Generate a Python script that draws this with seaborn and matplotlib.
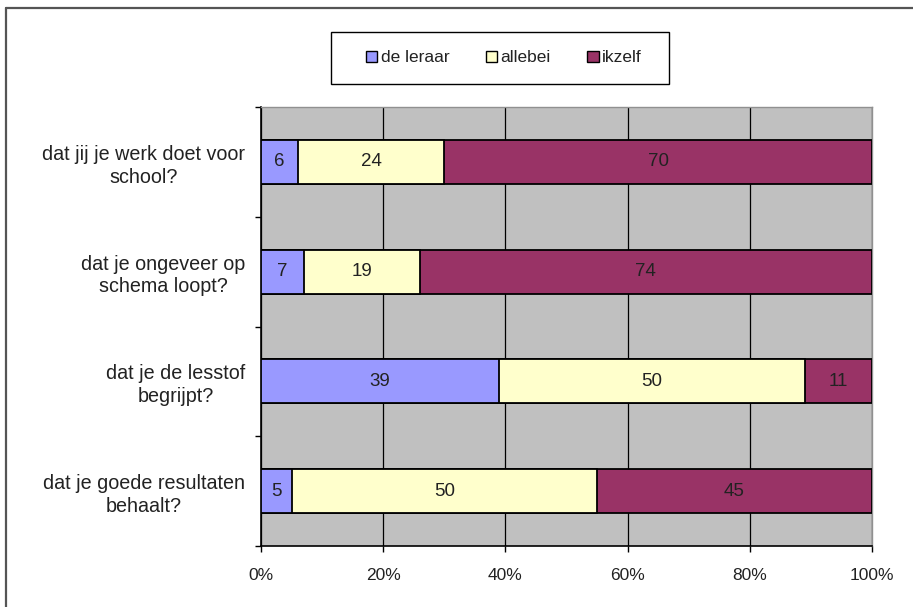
import matplotlib
matplotlib.use("Agg")
import matplotlib.pyplot as plt
import seaborn as sns
import pandas as pd
import numpy as np
from matplotlib.patches import Patch, Rectangle
from matplotlib.lines import Line2D

# Survey answers: who takes care of ... (percentages per question)
questions = [
    "dat jij je werk doet voor\nschool?",
    "dat je ongeveer op\nschema loopt?",
    "dat je de lesstof\nbegrijpt?",
    "dat je goede resultaten\nbehaalt?",
]
series_names = ["de leraar", "allebei", "ikzelf"]
de_leraar = [6, 7, 39, 5]
allebei = [24, 19, 50, 50]
ikzelf = [70, 74, 11, 45]
series_colors = ["#9999FF", "#FFFFCC", "#993366"]
x_ticks = [0, 20, 40, 60, 80, 100]
x_tick_labels = ["0%", "20%", "40%", "60%", "80%", "100%"]

sns.set_style("white")
plt.rcParams["font.family"] = ["Liberation Sans", "DejaVu Sans"]
text_color = "#222222"

W, H = 913, 607
fig = plt.figure(figsize=(W / 100, H / 100), dpi=100)
fig.patch.set_facecolor("white")

# plot area in pixel coordinates
left_px, right_px, top_px, bottom_px = 261, 872, 107, 546
ax = fig.add_axes([left_px / W, 1 - bottom_px / H,
                   (right_px - left_px) / W, (bottom_px - top_px) / H])

values = [de_leraar, allebei, ikzelf]
cum = np.cumsum(np.array(values), axis=0)
df = pd.DataFrame({"question": questions})
for k in range(len(series_names)):
    df[f"cum{k}"] = cum[k]

# stacked bars: draw running totals from the longest down
for k in reversed(range(len(series_names))):
    sns.barplot(data=df, x=f"cum{k}", y="question", orient="h",
                color=series_colors[k], saturation=1, width=0.4,
                edgecolor="black", linewidth=1.3, ax=ax, zorder=3)

# value labels in the middle of each segment
for k in range(len(series_names)):
    starts = cum[k] - np.array(values[k])
    for i, v in enumerate(values[k]):
        ax.text(starts[i] + v / 2, i, str(v), ha="center", va="center",
                fontsize=13.5, color=text_color, zorder=5)

ax.set_facecolor("#C0C0C0")
ax.set_xlim(0, 100)
ax.set_ylim(len(questions) - 0.5, -0.5)
ax.set_axisbelow(True)
ax.set_xticks(x_ticks)
ax.set_xticklabels(x_tick_labels, fontsize=12.5, color=text_color)
ax.xaxis.grid(True, color="black", linewidth=0.9)
ax.yaxis.grid(False)
ax.set_xlabel("")
ax.set_ylabel("")

ax.set_yticks(range(len(questions)))
ax.set_yticklabels(questions, fontsize=14.2, color=text_color,
                   multialignment="center", linespacing=1.25)
ax.set_yticks(np.arange(-0.5, len(questions)), minor=True)
ax.tick_params(axis="y", which="major", length=0, pad=11.5)
ax.tick_params(axis="y", which="minor", length=4, width=1, color="black",
               direction="out", left=True)
ax.tick_params(axis="x", which="major", length=4, width=1, color="black",
               direction="out", bottom=True, pad=12)

for side in ["left", "bottom"]:
    ax.spines[side].set_color("black")
    ax.spines[side].set_linewidth(1.2)
for side in ["top", "right"]:
    ax.spines[side].set_color("#909090")
    ax.spines[side].set_linewidth(1.0)

# legend box
lx0, lx1, ly0, ly1 = 331, 669, 32, 84
fig.add_artist(Rectangle((lx0 / W, 1 - ly1 / H), (lx1 - lx0) / W,
                         (ly1 - ly0) / H, transform=fig.transFigure,
                         facecolor="white", edgecolor="black", linewidth=1.0))
handles = [Patch(facecolor=c, edgecolor="black", linewidth=1.0)
           for c in series_colors]
fig.legend(handles, series_names, loc="center",
           bbox_to_anchor=(504 / W, 1 - 58 / H), ncol=3, frameon=False,
           fontsize=12.5, handlelength=0.65, handleheight=0.65,
           handletextpad=0.2, columnspacing=2.1, labelcolor=text_color)

# outer chart frame
frame_kw = dict(color="#555555", linewidth=1.6, transform=fig.transFigure)
fig.add_artist(Line2D([6 / W, 6 / W], [0, 1 - 8 / H], **frame_kw))
fig.add_artist(Line2D([6 / W, 1], [1 - 8 / H, 1 - 8 / H], **frame_kw))

fig.savefig("out.png", dpi=100)
